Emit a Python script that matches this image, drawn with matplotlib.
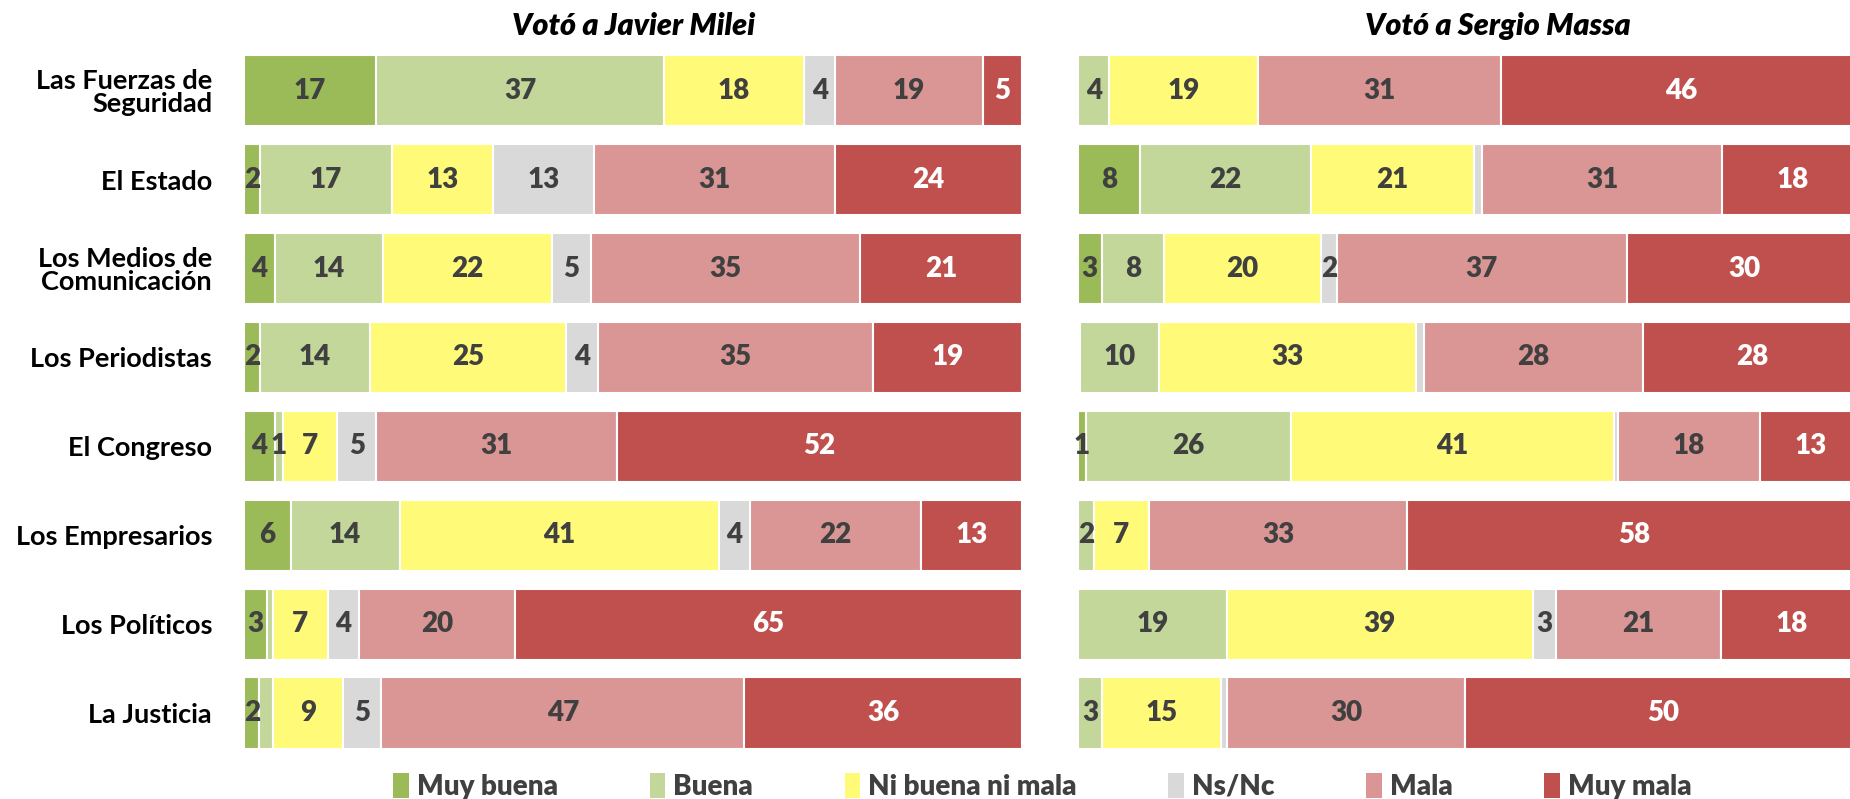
import numpy as np
import matplotlib.pyplot as plt
from matplotlib.patches import Patch

categorias = ["Las Fuerzas de\nSeguridad", "El Estado", "Los Medios de\nComunicación", "Los Periodistas",
              "El Congreso", "Los Empresarios", "Los Políticos", "La Justicia"]
respuestas = ["Muy buena", "Buena", "Ni buena ni mala", "Ns/Nc", "Mala", "Muy mala"]
colores = ["#9BBB59", "#C4D79B", "#FFFB78", "#D9D9D9", "#DA9694", "#C0504D"]

# filas = instituciones, columnas = respuestas (%)
milei = [[17, 37, 18, 4, 19, 5],
         [2, 17, 13, 13, 31, 24],
         [4, 14, 22, 5, 35, 21],
         [2, 14, 25, 4, 35, 19],
         [4, 1, 7, 5, 31, 52],
         [6, 14, 41, 4, 22, 13],
         [3, 0.7, 7, 4, 20, 65],
         [2, 1.8, 9, 5, 47, 36]]
massa = [[0, 4, 19, 0, 31, 46],
         [8, 22, 21, 1, 31, 18],
         [3, 8, 20, 2, 37, 30],
         [0.3, 10, 33, 1, 28, 28],
         [1, 26, 41, 0.5, 18, 13],
         [0, 2, 7, 0, 33, 58],
         [0, 19, 39, 3, 21, 18],
         [0, 3, 15, 0.8, 30, 50]]

# segmentos sin etiqueta (fila, respuesta)
sin_etiqueta_milei = [(6, 1), (7, 1)]
sin_etiqueta_massa = [(1, 3), (3, 0), (3, 3), (4, 3), (7, 3)]

FUENTE = ["Lato", "DejaVu Sans"]


def dibujar(ax, datos, ocultos):
    datos = np.array(datos, dtype=float)
    pct = datos / datos.sum(axis=1, keepdims=True) * 100
    y = np.arange(len(categorias))
    izq = np.zeros(len(categorias))
    for j, (resp, col) in enumerate(zip(respuestas, colores)):
        barras = ax.barh(y, pct[:, j], left=izq, height=0.8, color=col,
                         edgecolor="white", linewidth=1.5, label=resp)
        etiquetas = ["" if datos[i, j] == 0 or (i, j) in ocultos else "%d" % round(datos[i, j])
                     for i in y]
        ax.bar_label(barras, labels=etiquetas, label_type="center",
                     color="white" if j == 5 else "#404040",
                     fontsize=20, fontweight="heavy", family=FUENTE)
        izq += pct[:, j]
    ax.set_xlim(0, 100)
    ax.set_ylim(len(categorias) - 0.5, -0.5)
    ax.set_xticks([])
    for s in ax.spines.values():
        s.set_visible(False)


fig = plt.figure(figsize=(18.5, 7.99), dpi=100)
ax1 = fig.add_axes([0.1319, 0.052, 0.4205, 0.89])
ax2 = fig.add_axes([0.5827, 0.052, 0.4238, 0.89])

dibujar(ax1, milei, sin_etiqueta_milei)
dibujar(ax2, massa, sin_etiqueta_massa)

ax1.set_yticks(np.arange(len(categorias)))
ax1.set_yticklabels(categorias, fontsize=19.5, fontweight="bold", family=FUENTE,
                    linespacing=0.95)
ax1.tick_params(axis="y", length=0, pad=23)
ax2.set_yticks([])

fig.text(634 / 1850, 1 - 26 / 799, "Votó a Javier Milei", ha="center", va="center",
         fontsize=22, fontweight="heavy", style="italic", family=FUENTE)
fig.text(1498 / 1850, 1 - 26 / 799, "Votó a Sergio Massa", ha="center", va="center",
         fontsize=22, fontweight="heavy", style="italic", family=FUENTE)

handles = [Patch(facecolor=c, edgecolor="none", label=r) for r, c in zip(respuestas, colores)]
leg = fig.legend(handles=handles, loc="center", bbox_to_anchor=(0.5635, 0.016), ncol=6,
                 frameon=False, handlelength=0.55, handleheight=1.0, handletextpad=0.3,
                 columnspacing=3.3, prop={"family": FUENTE, "weight": "heavy", "size": 20})
for t in leg.get_texts():
    t.set_color("#404040")

fig.savefig("out.png", dpi=100)
